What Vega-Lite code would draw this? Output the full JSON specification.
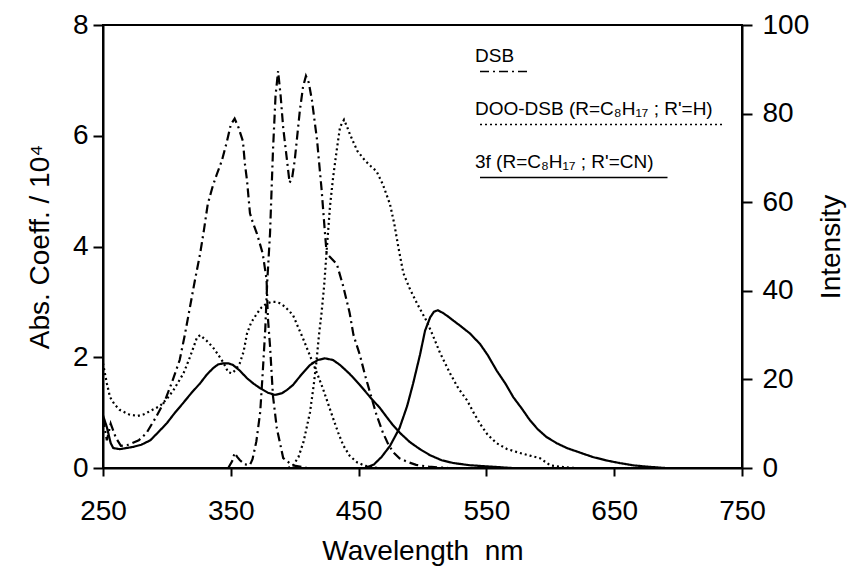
{
  "$schema": "https://vega.github.io/schema/vega-lite/v6.json",
  "width": 639,
  "height": 443,
  "autosize": {"type": "none"},
  "padding": {"left": 103, "top": 25, "right": 108, "bottom": 99},
  "background": "white",
  "config": {
    "font": "Liberation Sans",
    "view": {"stroke": "black", "strokeWidth": 2},
    "axis": {
      "domainColor": "black", "domainWidth": 2, "tickColor": "black", "tickWidth": 2,
      "labelColor": "black", "titleColor": "black", "labelFont": "Liberation Sans", "titleFont": "Liberation Sans",
      "labelFontSize": 28, "titleFontSize": 28, "titleFontWeight": "normal", "grid": false, "labelFlush": false
    }
  },
  "data": {"values": [
    {"series":"DSB","kind":"abs","wl":250,"v":0.9},{"series":"DSB","kind":"abs","wl":253,"v":0.5},{"series":"DSB","kind":"abs","wl":256,"v":0.8},{"series":"DSB","kind":"abs","wl":260,"v":0.55},{"series":"DSB","kind":"abs","wl":264,"v":0.4},{"series":"DSB","kind":"abs","wl":270,"v":0.42},{"series":"DSB","kind":"abs","wl":278,"v":0.5},{"series":"DSB","kind":"abs","wl":284,"v":0.63},{"series":"DSB","kind":"abs","wl":291,"v":0.9},{"series":"DSB","kind":"abs","wl":298.5,"v":1.22},{"series":"DSB","kind":"abs","wl":304,"v":1.55},{"series":"DSB","kind":"abs","wl":310,"v":1.95},{"series":"DSB","kind":"abs","wl":314,"v":2.4},{"series":"DSB","kind":"abs","wl":318,"v":2.9},{"series":"DSB","kind":"abs","wl":322,"v":3.4},{"series":"DSB","kind":"abs","wl":326,"v":3.87},{"series":"DSB","kind":"abs","wl":329,"v":4.3},{"series":"DSB","kind":"abs","wl":332,"v":4.77},{"series":"DSB","kind":"abs","wl":336,"v":5.1},{"series":"DSB","kind":"abs","wl":339,"v":5.3},{"series":"DSB","kind":"abs","wl":343,"v":5.55},{"series":"DSB","kind":"abs","wl":347,"v":5.9},{"series":"DSB","kind":"abs","wl":350,"v":6.2},{"series":"DSB","kind":"abs","wl":353,"v":6.31},{"series":"DSB","kind":"abs","wl":356,"v":6.15},{"series":"DSB","kind":"abs","wl":359.5,"v":5.9},{"series":"DSB","kind":"abs","wl":361,"v":5.5},{"series":"DSB","kind":"abs","wl":362.7,"v":5.19},{"series":"DSB","kind":"abs","wl":365,"v":4.6},{"series":"DSB","kind":"abs","wl":367,"v":4.45},{"series":"DSB","kind":"abs","wl":370.5,"v":4.23},{"series":"DSB","kind":"abs","wl":375,"v":3.87},{"series":"DSB","kind":"abs","wl":378,"v":3.4},{"series":"DSB","kind":"abs","wl":379,"v":2.72},{"series":"DSB","kind":"abs","wl":380.7,"v":2.2},{"series":"DSB","kind":"abs","wl":383,"v":1.3},{"series":"DSB","kind":"abs","wl":386,"v":0.72},{"series":"DSB","kind":"abs","wl":391,"v":0.18},{"series":"DSB","kind":"abs","wl":398,"v":0.05},{"series":"DSB","kind":"abs","wl":410,"v":0},
    {"series":"DSB","kind":"em","wl":348,"v":0},{"series":"DSB","kind":"em","wl":351,"v":1.5},{"series":"DSB","kind":"em","wl":353,"v":3.4},{"series":"DSB","kind":"em","wl":355,"v":2.5},{"series":"DSB","kind":"em","wl":357,"v":1.8},{"series":"DSB","kind":"em","wl":361,"v":0.8},{"series":"DSB","kind":"em","wl":365,"v":0.7},{"series":"DSB","kind":"em","wl":367,"v":2},{"series":"DSB","kind":"em","wl":370,"v":6},{"series":"DSB","kind":"em","wl":373,"v":12.6},{"series":"DSB","kind":"em","wl":375,"v":21.6},{"series":"DSB","kind":"em","wl":377,"v":31.5},{"series":"DSB","kind":"em","wl":378.5,"v":42},{"series":"DSB","kind":"em","wl":380.7,"v":53},{"series":"DSB","kind":"em","wl":383,"v":71.6},{"series":"DSB","kind":"em","wl":385,"v":84},{"series":"DSB","kind":"em","wl":387,"v":89.6},{"series":"DSB","kind":"em","wl":389,"v":84},{"series":"DSB","kind":"em","wl":391,"v":76.8},{"series":"DSB","kind":"em","wl":394,"v":69.4},{"series":"DSB","kind":"em","wl":396,"v":64.4},{"series":"DSB","kind":"em","wl":398,"v":65.5},{"series":"DSB","kind":"em","wl":400,"v":69.4},{"series":"DSB","kind":"em","wl":404,"v":80.6},{"series":"DSB","kind":"em","wl":406.5,"v":86},{"series":"DSB","kind":"em","wl":408.8,"v":88.5},{"series":"DSB","kind":"em","wl":411,"v":87},{"series":"DSB","kind":"em","wl":413.5,"v":83},{"series":"DSB","kind":"em","wl":417.5,"v":74},{"series":"DSB","kind":"em","wl":421,"v":63},{"series":"DSB","kind":"em","wl":423.7,"v":53},{"series":"DSB","kind":"em","wl":425,"v":48.4},{"series":"DSB","kind":"em","wl":428,"v":47.5},{"series":"DSB","kind":"em","wl":433,"v":46},{"series":"DSB","kind":"em","wl":438,"v":41},{"series":"DSB","kind":"em","wl":443,"v":35},{"series":"DSB","kind":"em","wl":446,"v":30},{"series":"DSB","kind":"em","wl":451,"v":25.5},{"series":"DSB","kind":"em","wl":455,"v":21},{"series":"DSB","kind":"em","wl":459,"v":17},{"series":"DSB","kind":"em","wl":464,"v":12},{"series":"DSB","kind":"em","wl":469,"v":8},{"series":"DSB","kind":"em","wl":473,"v":5.5},{"series":"DSB","kind":"em","wl":477,"v":3.6},{"series":"DSB","kind":"em","wl":482,"v":2.2},{"series":"DSB","kind":"em","wl":488,"v":1.4},{"series":"DSB","kind":"em","wl":495,"v":0.7},{"series":"DSB","kind":"em","wl":505,"v":0.3},{"series":"DSB","kind":"em","wl":520,"v":0},
    {"series":"DOO-DSB (R=C₈H₁₇ ; R'=H)","kind":"abs","wl":250,"v":1.89},{"series":"DOO-DSB (R=C₈H₁₇ ; R'=H)","kind":"abs","wl":253,"v":1.53},{"series":"DOO-DSB (R=C₈H₁₇ ; R'=H)","kind":"abs","wl":255.5,"v":1.28},{"series":"DOO-DSB (R=C₈H₁₇ ; R'=H)","kind":"abs","wl":259,"v":1.15},{"series":"DOO-DSB (R=C₈H₁₇ ; R'=H)","kind":"abs","wl":263,"v":1.05},{"series":"DOO-DSB (R=C₈H₁₇ ; R'=H)","kind":"abs","wl":270,"v":0.97},{"series":"DOO-DSB (R=C₈H₁₇ ; R'=H)","kind":"abs","wl":277,"v":0.94},{"series":"DOO-DSB (R=C₈H₁₇ ; R'=H)","kind":"abs","wl":282,"v":0.97},{"series":"DOO-DSB (R=C₈H₁₇ ; R'=H)","kind":"abs","wl":287,"v":1.03},{"series":"DOO-DSB (R=C₈H₁₇ ; R'=H)","kind":"abs","wl":294.6,"v":1.12},{"series":"DOO-DSB (R=C₈H₁₇ ; R'=H)","kind":"abs","wl":300,"v":1.25},{"series":"DOO-DSB (R=C₈H₁₇ ; R'=H)","kind":"abs","wl":305,"v":1.4},{"series":"DOO-DSB (R=C₈H₁₇ ; R'=H)","kind":"abs","wl":313,"v":1.71},{"series":"DOO-DSB (R=C₈H₁₇ ; R'=H)","kind":"abs","wl":318,"v":2.0},{"series":"DOO-DSB (R=C₈H₁₇ ; R'=H)","kind":"abs","wl":323.6,"v":2.36},{"series":"DOO-DSB (R=C₈H₁₇ ; R'=H)","kind":"abs","wl":326,"v":2.4},{"series":"DOO-DSB (R=C₈H₁₇ ; R'=H)","kind":"abs","wl":331,"v":2.3},{"series":"DOO-DSB (R=C₈H₁₇ ; R'=H)","kind":"abs","wl":336,"v":2.18},{"series":"DOO-DSB (R=C₈H₁₇ ; R'=H)","kind":"abs","wl":340,"v":2.05},{"series":"DOO-DSB (R=C₈H₁₇ ; R'=H)","kind":"abs","wl":344,"v":1.91},{"series":"DOO-DSB (R=C₈H₁₇ ; R'=H)","kind":"abs","wl":348,"v":1.73},{"series":"DOO-DSB (R=C₈H₁₇ ; R'=H)","kind":"abs","wl":351,"v":1.71},{"series":"DOO-DSB (R=C₈H₁₇ ; R'=H)","kind":"abs","wl":354,"v":1.78},{"series":"DOO-DSB (R=C₈H₁₇ ; R'=H)","kind":"abs","wl":357,"v":1.89},{"series":"DOO-DSB (R=C₈H₁₇ ; R'=H)","kind":"abs","wl":360,"v":2.1},{"series":"DOO-DSB (R=C₈H₁₇ ; R'=H)","kind":"abs","wl":362.7,"v":2.43},{"series":"DOO-DSB (R=C₈H₁₇ ; R'=H)","kind":"abs","wl":366,"v":2.63},{"series":"DOO-DSB (R=C₈H₁₇ ; R'=H)","kind":"abs","wl":370.5,"v":2.79},{"series":"DOO-DSB (R=C₈H₁₇ ; R'=H)","kind":"abs","wl":374,"v":2.9},{"series":"DOO-DSB (R=C₈H₁₇ ; R'=H)","kind":"abs","wl":378,"v":2.97},{"series":"DOO-DSB (R=C₈H₁₇ ; R'=H)","kind":"abs","wl":382,"v":3.0},{"series":"DOO-DSB (R=C₈H₁₇ ; R'=H)","kind":"abs","wl":385,"v":3.0},{"series":"DOO-DSB (R=C₈H₁₇ ; R'=H)","kind":"abs","wl":388,"v":2.98},{"series":"DOO-DSB (R=C₈H₁₇ ; R'=H)","kind":"abs","wl":392,"v":2.92},{"series":"DOO-DSB (R=C₈H₁₇ ; R'=H)","kind":"abs","wl":395,"v":2.85},{"series":"DOO-DSB (R=C₈H₁₇ ; R'=H)","kind":"abs","wl":398.7,"v":2.76},{"series":"DOO-DSB (R=C₈H₁₇ ; R'=H)","kind":"abs","wl":402,"v":2.58},{"series":"DOO-DSB (R=C₈H₁₇ ; R'=H)","kind":"abs","wl":406.5,"v":2.34},{"series":"DOO-DSB (R=C₈H₁₇ ; R'=H)","kind":"abs","wl":410,"v":2.14},{"series":"DOO-DSB (R=C₈H₁₇ ; R'=H)","kind":"abs","wl":414,"v":1.91},{"series":"DOO-DSB (R=C₈H₁₇ ; R'=H)","kind":"abs","wl":418,"v":1.68},{"series":"DOO-DSB (R=C₈H₁₇ ; R'=H)","kind":"abs","wl":422,"v":1.44},{"series":"DOO-DSB (R=C₈H₁₇ ; R'=H)","kind":"abs","wl":426,"v":1.17},{"series":"DOO-DSB (R=C₈H₁₇ ; R'=H)","kind":"abs","wl":430,"v":0.9},{"series":"DOO-DSB (R=C₈H₁₇ ; R'=H)","kind":"abs","wl":434,"v":0.64},{"series":"DOO-DSB (R=C₈H₁₇ ; R'=H)","kind":"abs","wl":438,"v":0.41},{"series":"DOO-DSB (R=C₈H₁₇ ; R'=H)","kind":"abs","wl":443,"v":0.22},{"series":"DOO-DSB (R=C₈H₁₇ ; R'=H)","kind":"abs","wl":449,"v":0.1},{"series":"DOO-DSB (R=C₈H₁₇ ; R'=H)","kind":"abs","wl":455,"v":0.04},{"series":"DOO-DSB (R=C₈H₁₇ ; R'=H)","kind":"abs","wl":465,"v":0},
    {"series":"DOO-DSB (R=C₈H₁₇ ; R'=H)","kind":"em","wl":395,"v":0},{"series":"DOO-DSB (R=C₈H₁₇ ; R'=H)","kind":"em","wl":399,"v":0.7},{"series":"DOO-DSB (R=C₈H₁₇ ; R'=H)","kind":"em","wl":403,"v":2.5},{"series":"DOO-DSB (R=C₈H₁₇ ; R'=H)","kind":"em","wl":407,"v":6},{"series":"DOO-DSB (R=C₈H₁₇ ; R'=H)","kind":"em","wl":412,"v":12.6},{"series":"DOO-DSB (R=C₈H₁₇ ; R'=H)","kind":"em","wl":415,"v":19},{"series":"DOO-DSB (R=C₈H₁₇ ; R'=H)","kind":"em","wl":417,"v":24},{"series":"DOO-DSB (R=C₈H₁₇ ; R'=H)","kind":"em","wl":419,"v":30},{"series":"DOO-DSB (R=C₈H₁₇ ; R'=H)","kind":"em","wl":421,"v":35},{"series":"DOO-DSB (R=C₈H₁₇ ; R'=H)","kind":"em","wl":423,"v":41},{"series":"DOO-DSB (R=C₈H₁₇ ; R'=H)","kind":"em","wl":425,"v":49},{"series":"DOO-DSB (R=C₈H₁₇ ; R'=H)","kind":"em","wl":427.6,"v":59},{"series":"DOO-DSB (R=C₈H₁₇ ; R'=H)","kind":"em","wl":430,"v":65.5},{"series":"DOO-DSB (R=C₈H₁₇ ; R'=H)","kind":"em","wl":433,"v":72},{"series":"DOO-DSB (R=C₈H₁₇ ; R'=H)","kind":"em","wl":435.5,"v":77},{"series":"DOO-DSB (R=C₈H₁₇ ; R'=H)","kind":"em","wl":438.6,"v":78.6},{"series":"DOO-DSB (R=C₈H₁₇ ; R'=H)","kind":"em","wl":441,"v":77},{"series":"DOO-DSB (R=C₈H₁₇ ; R'=H)","kind":"em","wl":443,"v":75.5},{"series":"DOO-DSB (R=C₈H₁₇ ; R'=H)","kind":"em","wl":446,"v":73.5},{"series":"DOO-DSB (R=C₈H₁₇ ; R'=H)","kind":"em","wl":449,"v":71.6},{"series":"DOO-DSB (R=C₈H₁₇ ; R'=H)","kind":"em","wl":455,"v":69.4},{"series":"DOO-DSB (R=C₈H₁₇ ; R'=H)","kind":"em","wl":460,"v":68},{"series":"DOO-DSB (R=C₈H₁₇ ; R'=H)","kind":"em","wl":464,"v":67},{"series":"DOO-DSB (R=C₈H₁₇ ; R'=H)","kind":"em","wl":469,"v":64},{"series":"DOO-DSB (R=C₈H₁₇ ; R'=H)","kind":"em","wl":474.6,"v":59.5},{"series":"DOO-DSB (R=C₈H₁₇ ; R'=H)","kind":"em","wl":478,"v":55},{"series":"DOO-DSB (R=C₈H₁₇ ; R'=H)","kind":"em","wl":481,"v":50},{"series":"DOO-DSB (R=C₈H₁₇ ; R'=H)","kind":"em","wl":485,"v":44},{"series":"DOO-DSB (R=C₈H₁₇ ; R'=H)","kind":"em","wl":490,"v":40.5},{"series":"DOO-DSB (R=C₈H₁₇ ; R'=H)","kind":"em","wl":496,"v":37},{"series":"DOO-DSB (R=C₈H₁₇ ; R'=H)","kind":"em","wl":503.5,"v":33},{"series":"DOO-DSB (R=C₈H₁₇ ; R'=H)","kind":"em","wl":508,"v":30},{"series":"DOO-DSB (R=C₈H₁₇ ; R'=H)","kind":"em","wl":513.7,"v":26},{"series":"DOO-DSB (R=C₈H₁₇ ; R'=H)","kind":"em","wl":521.5,"v":21.4},{"series":"DOO-DSB (R=C₈H₁₇ ; R'=H)","kind":"em","wl":528,"v":18},{"series":"DOO-DSB (R=C₈H₁₇ ; R'=H)","kind":"em","wl":534.8,"v":15.3},{"series":"DOO-DSB (R=C₈H₁₇ ; R'=H)","kind":"em","wl":540,"v":12.5},{"series":"DOO-DSB (R=C₈H₁₇ ; R'=H)","kind":"em","wl":545,"v":10},{"series":"DOO-DSB (R=C₈H₁₇ ; R'=H)","kind":"em","wl":551,"v":7.5},{"series":"DOO-DSB (R=C₈H₁₇ ; R'=H)","kind":"em","wl":558,"v":5.6},{"series":"DOO-DSB (R=C₈H₁₇ ; R'=H)","kind":"em","wl":566,"v":4.3},{"series":"DOO-DSB (R=C₈H₁₇ ; R'=H)","kind":"em","wl":576,"v":3.4},{"series":"DOO-DSB (R=C₈H₁₇ ; R'=H)","kind":"em","wl":584,"v":2.8},{"series":"DOO-DSB (R=C₈H₁₇ ; R'=H)","kind":"em","wl":592,"v":2.2},{"series":"DOO-DSB (R=C₈H₁₇ ; R'=H)","kind":"em","wl":600,"v":0.6},{"series":"DOO-DSB (R=C₈H₁₇ ; R'=H)","kind":"em","wl":610,"v":0.2},{"series":"DOO-DSB (R=C₈H₁₇ ; R'=H)","kind":"em","wl":620,"v":0},
    {"series":"3f (R=C₈H₁₇ ; R'=CN)","kind":"abs","wl":250,"v":0.95},{"series":"3f (R=C₈H₁₇ ; R'=CN)","kind":"abs","wl":253,"v":0.74},{"series":"3f (R=C₈H₁₇ ; R'=CN)","kind":"abs","wl":256,"v":0.45},{"series":"3f (R=C₈H₁₇ ; R'=CN)","kind":"abs","wl":258,"v":0.36},{"series":"3f (R=C₈H₁₇ ; R'=CN)","kind":"abs","wl":263,"v":0.34},{"series":"3f (R=C₈H₁₇ ; R'=CN)","kind":"abs","wl":268,"v":0.36},{"series":"3f (R=C₈H₁₇ ; R'=CN)","kind":"abs","wl":273.5,"v":0.38},{"series":"3f (R=C₈H₁₇ ; R'=CN)","kind":"abs","wl":280,"v":0.42},{"series":"3f (R=C₈H₁₇ ; R'=CN)","kind":"abs","wl":287,"v":0.5},{"series":"3f (R=C₈H₁₇ ; R'=CN)","kind":"abs","wl":293,"v":0.64},{"series":"3f (R=C₈H₁₇ ; R'=CN)","kind":"abs","wl":300,"v":0.81},{"series":"3f (R=C₈H₁₇ ; R'=CN)","kind":"abs","wl":306,"v":0.99},{"series":"3f (R=C₈H₁₇ ; R'=CN)","kind":"abs","wl":312.6,"v":1.17},{"series":"3f (R=C₈H₁₇ ; R'=CN)","kind":"abs","wl":319,"v":1.35},{"series":"3f (R=C₈H₁₇ ; R'=CN)","kind":"abs","wl":326,"v":1.53},{"series":"3f (R=C₈H₁₇ ; R'=CN)","kind":"abs","wl":331,"v":1.68},{"series":"3f (R=C₈H₁₇ ; R'=CN)","kind":"abs","wl":336,"v":1.8},{"series":"3f (R=C₈H₁₇ ; R'=CN)","kind":"abs","wl":340,"v":1.87},{"series":"3f (R=C₈H₁₇ ; R'=CN)","kind":"abs","wl":344,"v":1.89},{"series":"3f (R=C₈H₁₇ ; R'=CN)","kind":"abs","wl":348,"v":1.89},{"series":"3f (R=C₈H₁₇ ; R'=CN)","kind":"abs","wl":351.7,"v":1.86},{"series":"3f (R=C₈H₁₇ ; R'=CN)","kind":"abs","wl":357,"v":1.76},{"series":"3f (R=C₈H₁₇ ; R'=CN)","kind":"abs","wl":362.7,"v":1.62},{"series":"3f (R=C₈H₁₇ ; R'=CN)","kind":"abs","wl":368,"v":1.52},{"series":"3f (R=C₈H₁₇ ; R'=CN)","kind":"abs","wl":373,"v":1.44},{"series":"3f (R=C₈H₁₇ ; R'=CN)","kind":"abs","wl":379,"v":1.36},{"series":"3f (R=C₈H₁₇ ; R'=CN)","kind":"abs","wl":384.6,"v":1.32},{"series":"3f (R=C₈H₁₇ ; R'=CN)","kind":"abs","wl":390,"v":1.35},{"series":"3f (R=C₈H₁₇ ; R'=CN)","kind":"abs","wl":394,"v":1.41},{"series":"3f (R=C₈H₁₇ ; R'=CN)","kind":"abs","wl":398.7,"v":1.5},{"series":"3f (R=C₈H₁₇ ; R'=CN)","kind":"abs","wl":405,"v":1.68},{"series":"3f (R=C₈H₁₇ ; R'=CN)","kind":"abs","wl":412,"v":1.86},{"series":"3f (R=C₈H₁₇ ; R'=CN)","kind":"abs","wl":418,"v":1.95},{"series":"3f (R=C₈H₁₇ ; R'=CN)","kind":"abs","wl":423.7,"v":1.98},{"series":"3f (R=C₈H₁₇ ; R'=CN)","kind":"abs","wl":430,"v":1.95},{"series":"3f (R=C₈H₁₇ ; R'=CN)","kind":"abs","wl":435.5,"v":1.86},{"series":"3f (R=C₈H₁₇ ; R'=CN)","kind":"abs","wl":443,"v":1.7},{"series":"3f (R=C₈H₁₇ ; R'=CN)","kind":"abs","wl":451,"v":1.5},{"series":"3f (R=C₈H₁₇ ; R'=CN)","kind":"abs","wl":459,"v":1.28},{"series":"3f (R=C₈H₁₇ ; R'=CN)","kind":"abs","wl":466.8,"v":1.08},{"series":"3f (R=C₈H₁₇ ; R'=CN)","kind":"abs","wl":472,"v":0.92},{"series":"3f (R=C₈H₁₇ ; R'=CN)","kind":"abs","wl":477,"v":0.77},{"series":"3f (R=C₈H₁₇ ; R'=CN)","kind":"abs","wl":483,"v":0.62},{"series":"3f (R=C₈H₁₇ ; R'=CN)","kind":"abs","wl":490,"v":0.47},{"series":"3f (R=C₈H₁₇ ; R'=CN)","kind":"abs","wl":498,"v":0.34},{"series":"3f (R=C₈H₁₇ ; R'=CN)","kind":"abs","wl":506,"v":0.23},{"series":"3f (R=C₈H₁₇ ; R'=CN)","kind":"abs","wl":515,"v":0.14},{"series":"3f (R=C₈H₁₇ ; R'=CN)","kind":"abs","wl":524,"v":0.09},{"series":"3f (R=C₈H₁₇ ; R'=CN)","kind":"abs","wl":537,"v":0.05},{"series":"3f (R=C₈H₁₇ ; R'=CN)","kind":"abs","wl":550,"v":0.03},{"series":"3f (R=C₈H₁₇ ; R'=CN)","kind":"abs","wl":570,"v":0},
    {"series":"3f (R=C₈H₁₇ ; R'=CN)","kind":"em","wl":455,"v":0},{"series":"3f (R=C₈H₁₇ ; R'=CN)","kind":"em","wl":462,"v":0.8},{"series":"3f (R=C₈H₁₇ ; R'=CN)","kind":"em","wl":468,"v":2.5},{"series":"3f (R=C₈H₁₇ ; R'=CN)","kind":"em","wl":474.6,"v":5},{"series":"3f (R=C₈H₁₇ ; R'=CN)","kind":"em","wl":482,"v":9},{"series":"3f (R=C₈H₁₇ ; R'=CN)","kind":"em","wl":488,"v":14},{"series":"3f (R=C₈H₁₇ ; R'=CN)","kind":"em","wl":492.6,"v":19},{"series":"3f (R=C₈H₁₇ ; R'=CN)","kind":"em","wl":498,"v":25.5},{"series":"3f (R=C₈H₁₇ ; R'=CN)","kind":"em","wl":502,"v":31},{"series":"3f (R=C₈H₁₇ ; R'=CN)","kind":"em","wl":506,"v":34},{"series":"3f (R=C₈H₁₇ ; R'=CN)","kind":"em","wl":509,"v":35.3},{"series":"3f (R=C₈H₁₇ ; R'=CN)","kind":"em","wl":512,"v":35.6},{"series":"3f (R=C₈H₁₇ ; R'=CN)","kind":"em","wl":516,"v":35},{"series":"3f (R=C₈H₁₇ ; R'=CN)","kind":"em","wl":520,"v":34.2},{"series":"3f (R=C₈H₁₇ ; R'=CN)","kind":"em","wl":524,"v":33.3},{"series":"3f (R=C₈H₁₇ ; R'=CN)","kind":"em","wl":530,"v":32},{"series":"3f (R=C₈H₁₇ ; R'=CN)","kind":"em","wl":537,"v":30.4},{"series":"3f (R=C₈H₁₇ ; R'=CN)","kind":"em","wl":545,"v":28},{"series":"3f (R=C₈H₁₇ ; R'=CN)","kind":"em","wl":551,"v":25.5},{"series":"3f (R=C₈H₁₇ ; R'=CN)","kind":"em","wl":558,"v":22},{"series":"3f (R=C₈H₁₇ ; R'=CN)","kind":"em","wl":565,"v":19},{"series":"3f (R=C₈H₁₇ ; R'=CN)","kind":"em","wl":571,"v":16},{"series":"3f (R=C₈H₁₇ ; R'=CN)","kind":"em","wl":578,"v":13.3},{"series":"3f (R=C₈H₁₇ ; R'=CN)","kind":"em","wl":584,"v":10.8},{"series":"3f (R=C₈H₁₇ ; R'=CN)","kind":"em","wl":590,"v":8.8},{"series":"3f (R=C₈H₁₇ ; R'=CN)","kind":"em","wl":597,"v":7},{"series":"3f (R=C₈H₁₇ ; R'=CN)","kind":"em","wl":605,"v":5.6},{"series":"3f (R=C₈H₁₇ ; R'=CN)","kind":"em","wl":613,"v":4.5},{"series":"3f (R=C₈H₁₇ ; R'=CN)","kind":"em","wl":623,"v":3.5},{"series":"3f (R=C₈H₁₇ ; R'=CN)","kind":"em","wl":633,"v":2.5},{"series":"3f (R=C₈H₁₇ ; R'=CN)","kind":"em","wl":644,"v":1.7},{"series":"3f (R=C₈H₁₇ ; R'=CN)","kind":"em","wl":654.5,"v":1.1},{"series":"3f (R=C₈H₁₇ ; R'=CN)","kind":"em","wl":665,"v":0.6},{"series":"3f (R=C₈H₁₇ ; R'=CN)","kind":"em","wl":676,"v":0.3},{"series":"3f (R=C₈H₁₇ ; R'=CN)","kind":"em","wl":690,"v":0}
  ]},
  "encoding": {
    "x": {"field": "wl", "type": "quantitative", "scale": {"domain": [250, 750], "nice": false},
      "axis": {"values": [250, 350, 450, 550, 650, 750], "title": "Wavelength\u00a0\u00a0nm", "tickSize": 8, "labelPadding": 21, "titlePadding": 12,
        "encode": {"ticks": {"update": {"y2": {"value": -8}}}}}},
    "strokeDash": {"field": "series", "type": "nominal",
      "scale": {"domain": ["DSB", "DOO-DSB (R=C₈H₁₇ ; R'=H)", "3f (R=C₈H₁₇ ; R'=CN)"], "range": [[9, 4, 2, 4], [2, 3], [1, 0]]},
      "legend": {"orient": "none", "legendX": 365, "legendY": 21, "direction": "vertical", "title": null, "padding": 0,
        "symbolSize": 100, "symbolStrokeWidth": 1.6, "symbolStrokeColor": "black", "symbolFillColor": "transparent",
        "labelFontSize": 19, "labelFont": "Liberation Sans", "labelColor": "black", "labelOffset": -12, "labelLimit": 400, "rowPadding": 24,
        "encode": {"symbols": {"update": {"shape": {"signal": "datum.index === 0 ? 'M0.5,3.2L10.5,3.2' : datum.index === 1 ? 'M0.5,3.2L49.5,3.2' : 'M0.5,3.2L38,3.2'"}}}}}}
  },
  "layer": [
    {"transform": [{"filter": "datum.kind === 'abs'"}],
     "mark": {"type": "line", "color": "black", "strokeWidth": 2.2},
     "encoding": {"y": {"field": "v", "type": "quantitative", "scale": {"domain": [0, 8], "nice": false},
       "axis": {"orient": "left", "values": [0, 2, 4, 6, 8], "title": "Abs. Coeff. / 10⁴", "tickSize": 10, "labelPadding": 5, "titlePadding": 18,
         "encode": {"ticks": {"update": {"x2": {"value": 10}}}, "labels": {"update": {"dy": {"signal": "datum.value === 0 ? -16 : 0"}}}}}}}},
    {"transform": [{"filter": "datum.kind === 'em'"}],
     "mark": {"type": "line", "color": "black", "strokeWidth": 2.2},
     "encoding": {"y": {"field": "v", "type": "quantitative", "scale": {"domain": [0, 100], "nice": false},
       "axis": {"orient": "right", "values": [0, 20, 40, 60, 80, 100], "title": "Intensity", "titleAngle": 270, "titleBaseline": "top", "tickSize": 10, "labelPadding": 10, "titlePadding": 9,
         "encode": {"ticks": {"update": {"x2": {"value": -10}}}}}}}}
  ],
  "resolve": {"scale": {"y": "independent"}}
}
